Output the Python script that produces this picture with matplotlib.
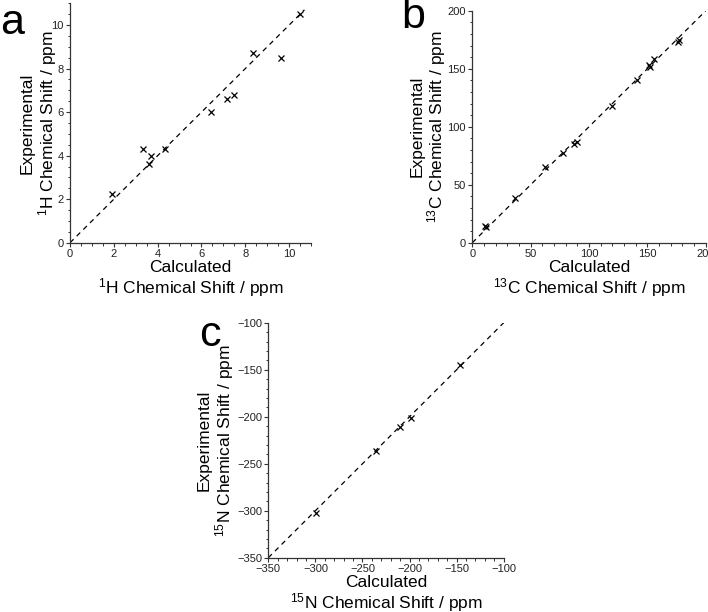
import matplotlib
matplotlib.use('Agg')
import matplotlib.pyplot as plt
from matplotlib.ticker import MultipleLocator

plt.rcParams['font.family'] = ['Liberation Sans', 'DejaVu Sans']
plt.rcParams['mathtext.fontset'] = 'custom'
plt.rcParams['mathtext.rm'] = 'Liberation Sans'
plt.rcParams['mathtext.it'] = 'Liberation Sans:italic'
plt.rcParams['mathtext.bf'] = 'Liberation Sans:bold'

# 1H shifts (ppm)
h_calc = [1.91, 3.35, 3.59, 3.70, 4.33, 6.42, 7.16, 7.47, 8.36, 9.64, 10.50]
h_exp = [2.23, 4.30, 3.60, 4.00, 4.30, 6.00, 6.60, 6.80, 8.70, 8.50, 10.53]
h_line = [0, 10.7]

# 13C shifts (ppm)
c_calc = [10.6, 12.0, 36.2, 62.3, 77.8, 87.2, 90.0, 119.6, 141.0, 151.2, 152.0, 155.8, 176.5, 177.3]
c_exp = [14.4, 13.8, 38.5, 65.0, 77.0, 85.0, 86.5, 117.8, 140.0, 153.4, 151.7, 158.0, 173.3, 174.7]
c_line = [0, 200]

# 15N shifts (ppm)
n_calc = [-299, -236, -210, -198, -146]
n_exp = [-302, -236, -211, -201, -145]
n_line = [-350, -100]

fig = plt.figure(figsize=(7.08, 6.12), dpi=100)

panels = [
    # rect, x, y, line, lims, major, minor, isotope, element, letter, letter pos, ylabel x, xlabel y
    ([0.0989, 0.6034, 0.3404, 0.3912], h_calc, h_exp, h_line, (0, 11), 2, 0.5, '1', 'H', 'a', (0.0, 0.995), -0.128, -0.154),
    ([0.6671, 0.6034, 0.3297, 0.3790], c_calc, c_exp, c_line, (0, 200), 50, 10, '13', 'C', 'b', (0.567, 1.005), -0.186, -0.158),
    ([0.3790, 0.0887, 0.3325, 0.3840], n_calc, n_exp, n_line, (-350, -100), 50, 10, '15', 'N', 'c', (0.281, 0.485), -0.221, -0.158),
]

spine_col = '#333333'
for rect, xs, ys, line, lims, major, minor, iso, el, letter, lpos, ylx, xly in panels:
    ax = fig.add_axes(rect)
    ax.plot(line, line, color='black', lw=0.9, linestyle=(0, (4, 3.5)))
    ax.plot(xs, ys, linestyle='none', marker='x', color='black', markersize=5, mew=0.9)
    ax.set_xlim(*lims)
    ax.set_ylim(*lims)
    ax.xaxis.set_major_locator(MultipleLocator(major))
    ax.yaxis.set_major_locator(MultipleLocator(major))
    ax.xaxis.set_minor_locator(MultipleLocator(minor))
    ax.yaxis.set_minor_locator(MultipleLocator(minor))
    for s in ['top', 'right']:
        ax.spines[s].set_visible(False)
    for s in ['left', 'bottom']:
        ax.spines[s].set_color(spine_col)
        ax.spines[s].set_linewidth(0.9)
    ax.tick_params(which='major', direction='out', length=3, width=0.8, color=spine_col,
                   labelsize=8, pad=1.5, labelcolor='#222222')
    ax.tick_params(which='minor', direction='out', length=1.8, width=0.7, color=spine_col)
    lab = r'$^{\mathrm{' + iso + r'}}$' + el + ' Chemical Shift / ppm'
    ax.set_xlabel('Calculated\n' + lab, fontsize=12.5, linespacing=1.05, va='center')
    ax.set_ylabel('Experimental\n' + lab, fontsize=12.5, linespacing=1.05, va='center')
    ax.xaxis.set_label_coords(0.5, xly)
    ax.yaxis.set_label_coords(ylx, 0.5)
    fig.text(lpos[0], lpos[1], letter, fontsize=31, ha='left', va='top')

fig.savefig('out.png', dpi=100)
